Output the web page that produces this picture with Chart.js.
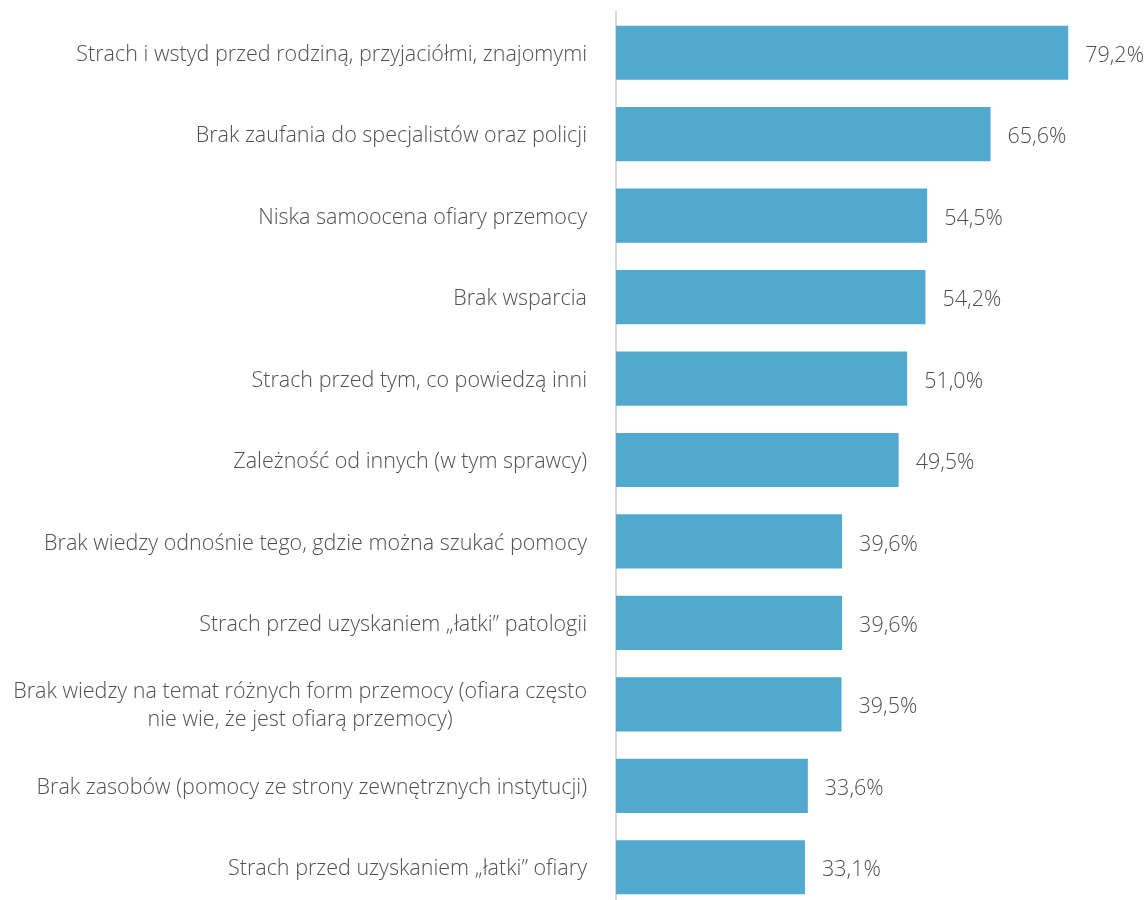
<!DOCTYPE html>
<html>
<head>
<meta charset="utf-8">
<script src="https://cdn.jsdelivr.net/npm/chart.js@4/dist/chart.umd.min.js"></script>
<style>
    html, body { margin: 0; padding: 0; background: #fff; overflow: hidden; }
    #box { width: 1147px; height: 908px; }
</style>
</head>
<body>
<div id="box"><canvas id="barriersChart"></canvas></div>
<script>
// Categories (multi-line ones as arrays) and percentages
const categories = [
    ['Strach i wstyd przed rodziną, przyjaciółmi, znajomymi'],
    ['Brak zaufania do specjalistów oraz policji'],
    ['Niska samoocena ofiary przemocy'],
    ['Brak wsparcia'],
    ['Strach przed tym, co powiedzą inni'],
    ['Zależność od innych (w tym sprawcy)'],
    ['Brak wiedzy odnośnie tego, gdzie można szukać pomocy'],
    ['Strach przed uzyskaniem „łatki” patologii '],
    ['Brak wiedzy na temat różnych form przemocy (ofiara często', 'nie wie, że jest ofiarą przemocy)'],
    ['Brak zasobów (pomocy ze strony zewnętrznych instytucji)'],
    ['Strach przed uzyskaniem „łatki” ofiary']
];
const values = [79.2, 65.6, 54.5, 54.2, 51.0, 49.5, 39.6, 39.6, 39.5, 33.6, 33.1];

const FONT = '300 21.5px "Open Sans", sans-serif';
const TEXT_COLOR = '#505050';

// Category labels: right-aligned, extra lines centred under the widest one
const categoryLabels = {
    id: 'categoryLabels',
    afterDraw(chart) {
        const ctx = chart.ctx;
        const yScale = chart.scales.y;
        const rightEdge = chart.chartArea.left - 29;
        const lineHeight = 28;
        ctx.save();
        ctx.font = FONT;
        ctx.fillStyle = TEXT_COLOR;
        ctx.textAlign = 'center';
        ctx.textBaseline = 'middle';
        categories.forEach((lines, i) => {
            const y = yScale.getPixelForValue(i) + 2;
            const w = Math.max(...lines.map(l => ctx.measureText(l.trim()).width));
            const cx = rightEdge - w / 2;
            const top = y - (lines.length - 1) * lineHeight / 2;
            lines.forEach((line, j) => {
                ctx.fillText(line.trim(), cx, top + j * lineHeight);
            });
        });
        ctx.restore();
    }
};

// Value labels to the right of each bar
const valueLabels = {
    id: 'valueLabels',
    afterDatasetsDraw(chart) {
        const ctx = chart.ctx;
        const meta = chart.getDatasetMeta(0);
        ctx.save();
        ctx.font = FONT;
        ctx.fillStyle = TEXT_COLOR;
        ctx.textAlign = 'left';
        ctx.textBaseline = 'middle';
        meta.data.forEach((bar, i) => {
            const txt = values[i].toFixed(1).replace('.', ',') + '%';
            ctx.fillText(txt, bar.x + 17, bar.y + 3);
        });
        ctx.restore();
    }
};

new Chart(document.getElementById('barriersChart'), {
    type: 'bar',
    data: {
        labels: categories,
        datasets: [{
            data: values,
            backgroundColor: '#52a9cf',
            borderWidth: 0,
            categoryPercentage: 1,
            barPercentage: 0.665
        }]
    },
    options: {
        indexAxis: 'y',
        responsive: true,
        maintainAspectRatio: false,
        animation: false,
        layout: { padding: { top: 12, bottom: 0, left: 0, right: 0 } },
        plugins: {
            legend: { display: false },
            tooltip: { enabled: false }
        },
        scales: {
            x: {
                display: false,
                min: 0,
                max: 93
            },
            y: {
                grid: { display: false, drawTicks: false },
                border: { display: true, color: '#d9d9d9', width: 2 },
                ticks: { display: false },
                afterFit(scale) { scale.width = 616; }
            }
        }
    },
    plugins: [categoryLabels, valueLabels]
});
</script>
</body>
</html>
